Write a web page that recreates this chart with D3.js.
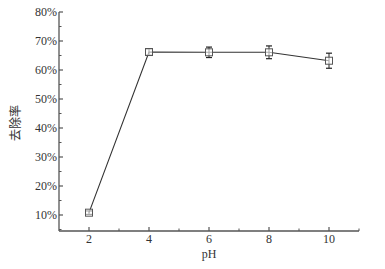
<!DOCTYPE html>
<html lang="zh">
<head>
<meta charset="utf-8">
<script src="https://d3js.org/d3.v7.min.js"></script>
<style>
body { margin: 0; background: #fff; }
text { font-family: "Liberation Serif", "Noto Sans CJK SC", serif; fill: #333; }
</style>
</head>
<body>
<svg width="385" height="269"></svg>
<script>
// data
var ph = [2, 4, 6, 8, 10];
var removal = [10.8, 66.2, 66.1, 66.1, 63.2];
var errs = [0.6, 1.1, 1.8, 2.2, 2.6];
var xTicks = [2, 4, 6, 8, 10];
var yTicks = [10, 20, 30, 40, 50, 60, 70, 80];

var svg = d3.select("svg");

var x = d3.scaleLinear().domain([1, 11]).range([59, 359]);
var y = d3.scaleLinear().domain([10, 80]).range([215, 12]);
var yBottom = 231;

var axisColor = "#555";

// y axis
var gy = svg.append("g").attr("transform", "translate(59,0)");
gy.append("line").attr("y1", y(80)).attr("y2", yBottom).attr("stroke", axisColor).attr("stroke-width", 1.3);
gy.selectAll(".maj").data(yTicks).enter().append("line")
    .attr("x1", 0).attr("x2", 4).attr("y1", d => y(d)).attr("y2", d => y(d))
    .attr("stroke", axisColor).attr("stroke-width", 1.2);
gy.selectAll(".min").data(d3.range(5, 80, 10)).enter().append("line")
    .attr("x1", 0).attr("x2", 2.5).attr("y1", d => y(d)).attr("y2", d => y(d))
    .attr("stroke", axisColor).attr("stroke-width", 1);
gy.selectAll("text").data(yTicks).enter().append("text")
    .attr("x", -2).attr("y", d => y(d) + 4)
    .attr("text-anchor", "end").attr("font-size", 12)
    .text(d => d + "%");

// x axis
var gx = svg.append("g").attr("transform", "translate(0," + yBottom + ")");
gx.append("line").attr("x1", 59).attr("x2", 359).attr("stroke", axisColor).attr("stroke-width", 1.3);
gx.selectAll(".maj").data(xTicks).enter().append("line")
    .attr("x1", d => x(d)).attr("x2", d => x(d)).attr("y1", 0).attr("y2", -4)
    .attr("stroke", axisColor).attr("stroke-width", 1.2);
gx.selectAll(".min").data([3, 5, 7, 9, 11]).enter().append("line")
    .attr("x1", d => x(d)).attr("x2", d => x(d)).attr("y1", 0).attr("y2", -2.5)
    .attr("stroke", axisColor).attr("stroke-width", 1);
gx.selectAll("text").data(xTicks).enter().append("text")
    .attr("x", d => x(d)).attr("y", 12)
    .attr("text-anchor", "middle").attr("font-size", 12)
    .text(d => d);

svg.append("text").attr("x", x(6)).attr("y", 258)
    .attr("text-anchor", "middle").attr("font-size", 12).text("pH");

svg.append("text")
    .attr("transform", "translate(20," + 123 + ") rotate(-90)")
    .attr("text-anchor", "middle").attr("font-size", 12)
    .style("font-family", "'Noto Sans CJK SC', sans-serif")
    .text("去除率");

// line
var pts = ph.map((d, i) => [d, removal[i], errs[i]]);
svg.append("path").datum(pts)
    .attr("fill", "none").attr("stroke", "#333").attr("stroke-width", 1.1)
    .attr("d", d3.line().x(d => x(d[0])).y(d => y(d[1])));

// error bars
var eb = svg.append("g").selectAll("g").data(pts).enter().append("g");
eb.append("line").attr("x1", d => x(d[0])).attr("x2", d => x(d[0]))
    .attr("y1", d => y(d[1] - d[2])).attr("y2", d => y(d[1] + d[2]))
    .attr("stroke", "#222").attr("stroke-width", 1);
eb.append("line").attr("x1", d => x(d[0]) - 3).attr("x2", d => x(d[0]) + 3)
    .attr("y1", d => y(d[1] + d[2])).attr("y2", d => y(d[1] + d[2]))
    .attr("stroke", "#222").attr("stroke-width", 1.2);
eb.append("line").attr("x1", d => x(d[0]) - 3).attr("x2", d => x(d[0]) + 3)
    .attr("y1", d => y(d[1] - d[2])).attr("y2", d => y(d[1] - d[2]))
    .attr("stroke", "#222").attr("stroke-width", 1.2);

// square markers
svg.append("g").selectAll("rect").data(pts).enter().append("rect")
    .attr("x", d => x(d[0]) - 3.5).attr("y", d => y(d[1]) - 3.5)
    .attr("width", 7).attr("height", 7)
    .attr("fill", "#fff").attr("fill-opacity", 0.6)
    .attr("stroke", "#555").attr("stroke-width", 1);
</script>
</body>
</html>
